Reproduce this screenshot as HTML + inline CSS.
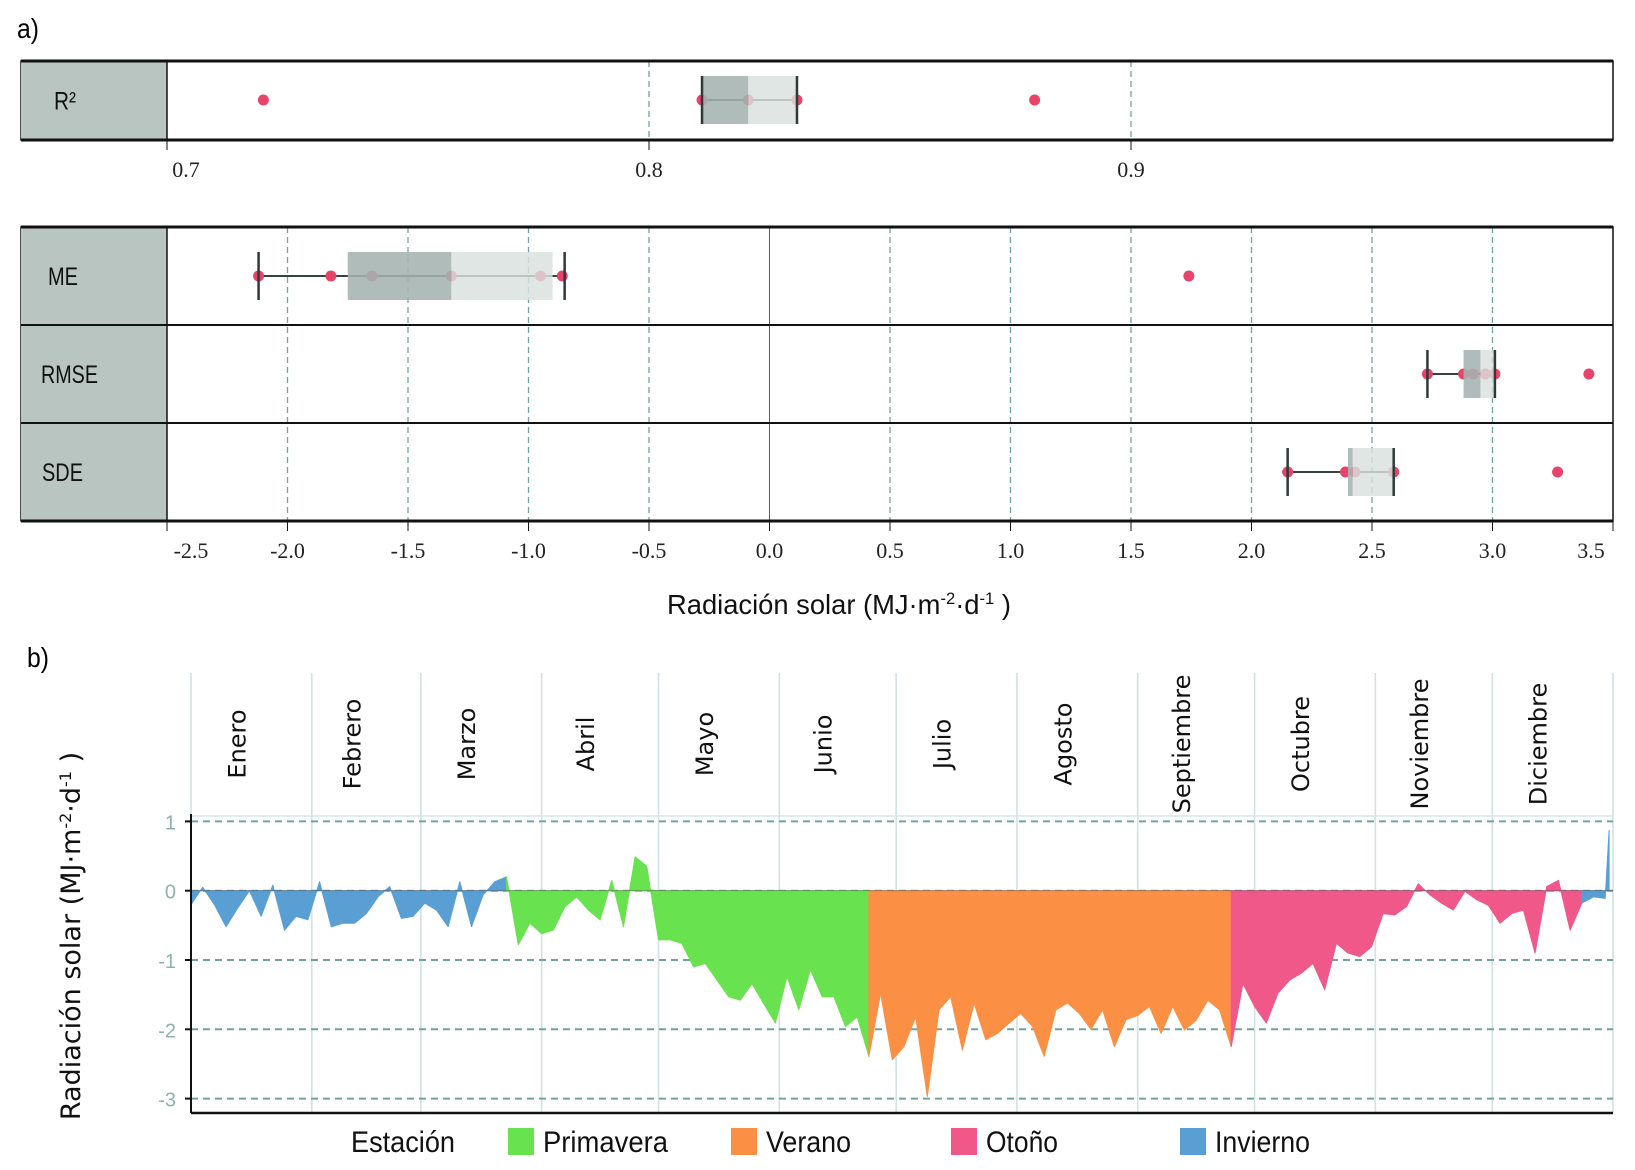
<!DOCTYPE html>
<html><head><meta charset="utf-8"><style>
html,body{margin:0;padding:0;background:#fff;}
svg{display:block;}
.nar{font-family:"Liberation Sans Narrow","Liberation Sans",sans-serif;}
.ser{font-family:"Liberation Serif",serif;}
.dej{font-family:"DejaVu Sans","Liberation Sans",sans-serif;}
</style></head><body>
<svg id="fig" width="1635" height="1170" viewBox="0 0 1635 1170" xmlns="http://www.w3.org/2000/svg">
<text x="17" y="38" class="nar" font-size="28" textLength="22" lengthAdjust="spacingAndGlyphs">a)</text>
<text x="27" y="667" class="nar" font-size="28" textLength="22" lengthAdjust="spacingAndGlyphs">b)</text>
<g id="pa"></g>
<g id="pb"></g>
</svg>
<script>
// ---------- Panel a data ----------
const r2Ticks = [0.7, 0.8, 0.9];
const r2Points = [0.72, 0.811, 0.8206, 0.8307, 0.88];
const r2Box = [0.811, 0.8206, 0.8307];      // q1, median, q3
const r2Whisk = [0.811, 0.8307];
const errTicks = [-2.5,-2.0,-1.5,-1.0,-0.5,0.0,0.5,1.0,1.5,2.0,2.5,3.0,3.5];
const errNames = ["ME","RMSE","SDE"];
const mePoints = [-2.12,-1.82,-1.65,-1.32,-0.95,-0.86,1.74];
const meBox = [-1.75,-1.32,-0.9];
const meWhisk = [-2.12,-0.85];
const rmsePoints = [2.73,2.88,2.92,2.97,3.01,3.40];
const rmseBox = [2.88,2.95,3.01];
const rmseWhisk = [2.73,3.01];
const sdePoints = [2.15,2.39,2.43,2.59,3.27];
const sdeBox = [2.40,2.42,2.59];
const sdeWhisk = [2.15,2.59];

// ---------- Panel b data ----------
const months = ["Enero","Febrero","Marzo","Abril","Mayo","Junio","Julio","Agosto","Septiembre","Octubre","Noviembre","Diciembre"];
const monthStartDays = [0,31,59,90,120,151,181,212,243,273,304,334,365];
const yTicks = [1,0,-1,-2,-3];
const seasonNames = ["Primavera","Verano","Otoño","Invierno"];
const seasonColors = ["#69e24f","#fb8f43","#f0588a","#5a9fd4"];
const dayStep = 3;
const diffValues = [-0.2,0.05,-0.2,-0.52,-0.25,0,-0.37,0.08,-0.57,-0.37,-0.42,0.13,-0.52,-0.47,-0.47,-0.33,-0.09,0.06,-0.4,-0.37,-0.18,-0.28,-0.52,0.13,-0.52,-0.06,0.13,0.2,-0.78,-0.47,-0.62,-0.57,-0.23,-0.09,-0.28,-0.42,0.15,-0.52,0.49,0.35,-0.71,-0.71,-0.76,-1.1,-1.05,-1.29,-1.53,-1.58,-1.34,-1.63,-1.91,-1.24,-1.72,-1.14,-1.53,-1.53,-1.96,-1.82,-2.39,-1.48,-2.44,-2.25,-1.82,-2.97,-1.72,-1.53,-2.3,-1.62,-2.15,-2.06,-1.91,-1.77,-1.96,-2.39,-1.72,-1.62,-1.77,-2.0,-1.72,-2.25,-1.86,-1.8,-1.67,-2.06,-1.67,-2.01,-1.87,-1.58,-1.72,-2.25,-1.34,-1.67,-1.91,-1.48,-1.29,-1.19,-1.05,-1.43,-0.76,-0.9,-0.95,-0.81,-0.33,-0.35,-0.23,0.1,-0.06,-0.18,-0.28,-0.01,-0.13,-0.21,-0.47,-0.33,-0.28,-0.9,0.06,0.15,-0.57,-0.18,-0.09,-0.11,0.87];

const NS="http://www.w3.org/2000/svg";
function mk(parent, tag, attrs, text){
  const e=document.createElementNS(NS,tag);
  for(const k in attrs) e.setAttribute(k,attrs[k]);
  if(text!==undefined) e.textContent=text;
  parent.appendChild(e); return e;
}
const pa=document.getElementById('pa');
const pb=document.getElementById('pb');

// ----- Panel a layout -----
const L=21, S=167, R=1613;
const xR2 = v => S + (v-0.7)/0.1*482;
const xErr = v => S + (v+2.5)/0.5*120.5;
const stripW = {r2:22, me:30, rmse:57, sde:41};

function strip(y0,y1,label,name){
  const r=mk(pa,'rect',{x:L,y:y0,width:S-L,height:y1-y0,fill:'#b8c5c1'});
  
  
  const xs={r2:54,me:48,rmse:41,sde:42};
  const t=mk(pa,'text',{x:xs[name],y:(y0+y1)/2+9,'font-size':25,class:'nar',fill:'#111',textLength:stripW[name],lengthAdjust:'spacingAndGlyphs'},label);
  
  
  return t;
}
function boxplot(xf,cy,pts,box,wh,name){
  const g=mk(pa,'g',{});
  
  
  mk(g,'line',{x1:xf(wh[0]),x2:xf(wh[1]),y1:cy,y2:cy,stroke:'#33443f','stroke-width':2});
  pts.forEach(v=>{
    const c=mk(g,'circle',{cx:xf(v),cy:cy,r:5.5,fill:'#e8436a'});
    
    
  });
  const h=24;
  const b1=mk(g,'rect',{x:xf(box[0]),y:cy-h,width:xf(box[1])-xf(box[0]),height:2*h,fill:'#a4b3af','fill-opacity':0.88});
  
  
  const b2=mk(g,'rect',{x:xf(box[1]),y:cy-h,width:xf(box[2])-xf(box[1]),height:2*h,fill:'#d9e1de','fill-opacity':0.82});
  
  
  wh.forEach(v=>mk(g,'line',{x1:xf(v),x2:xf(v),y1:cy-h,y2:cy+h,stroke:'#2d3a37','stroke-width':2.5}));
}

// R2 panel
mk(pa,'rect',{x:L,y:61,width:R-L,height:79,fill:'#fff',stroke:'#111','stroke-width':1.5});
r2Ticks.slice(1).forEach(v=>mk(pa,'line',{x1:xR2(v),x2:xR2(v),y1:61,y2:140,stroke:'#6fa3a0','stroke-width':1.3,'stroke-dasharray':'6,4'}));
strip(61,140,'R²','r2');
mk(pa,'line',{x1:S,x2:S,y1:61,y2:140,stroke:'#111','stroke-width':1.5});
mk(pa,'line',{x1:L,x2:R,y1:61,y2:61,stroke:'#111','stroke-width':3});
mk(pa,'line',{x1:L,x2:R,y1:140,y2:140,stroke:'#111','stroke-width':3});
boxplot(xR2,100,r2Points,r2Box,r2Whisk,'r2');
r2Ticks.forEach((v,i)=>{
  mk(pa,'line',{x1:xR2(v),x2:xR2(v),y1:140,y2:150,stroke:'#111','stroke-width':1});
  const t=mk(pa,'text',{x:xR2(v)+(i===0?19:0),y:177,'font-size':22,class:'ser','text-anchor':'middle',fill:'#222'},v.toFixed(1));
  
  
});

// Error panel
const rowY=[227,325,423,521];
mk(pa,'rect',{x:L,y:227,width:R-L,height:294,fill:'#fff',stroke:'#111','stroke-width':1.5});
errTicks.forEach(v=>{
  if(v===-2.5||v===3.5) return;
  if(v===0) mk(pa,'line',{x1:xErr(v),x2:xErr(v),y1:227,y2:521,stroke:'#6b5b55','stroke-width':1});
  else mk(pa,'line',{x1:xErr(v),x2:xErr(v),y1:227,y2:521,stroke:'#6fa3a0','stroke-width':1.3,'stroke-dasharray':'6,4'});
});
errNames.forEach((n,i)=>strip(rowY[i],rowY[i+1],n,n.toLowerCase()));
mk(pa,'line',{x1:S,x2:S,y1:227,y2:521,stroke:'#111','stroke-width':1.5});
rowY.forEach((y,i)=>mk(pa,'line',{x1:L,x2:R,y1:y,y2:y,stroke:'#111','stroke-width':(i===0||i===3)?3:2}));
boxplot(xErr,276,mePoints,meBox,meWhisk,'me');
boxplot(xErr,374,rmsePoints,rmseBox,rmseWhisk,'rmse');
boxplot(xErr,472,sdePoints,sdeBox,sdeWhisk,'sde');
errTicks.forEach(v=>{
  mk(pa,'line',{x1:xErr(v),x2:xErr(v),y1:521,y2:531,stroke:'#111','stroke-width':1});
  let dx=0; if(v===-2.5) dx=24; if(v===3.5) dx=-22;
  const t=mk(pa,'text',{x:xErr(v)+dx,y:558,'font-size':22,class:'ser','text-anchor':'middle',fill:'#222'},v.toFixed(1));
  
  
});
const xt=mk(pa,'text',{x:667,y:614,'font-size':28,class:'nar',fill:'#111',textLength:344,lengthAdjust:'spacingAndGlyphs'});


xt.innerHTML='Radiación solar (MJ·m<tspan dy="-10" font-size="17">-2</tspan><tspan dy="10">·d</tspan><tspan dy="-10" font-size="17">-1</tspan><tspan dy="10"> )</tspan>';

// ----- Panel b -----
const BL=191, BR=1613, Y0=890.7, YU=69.3, BT=816, BB=1113;
const xDay = d => BL + d*(BR-BL)/365;
const yVal = v => Y0 - v*YU;
function seasonOf(d){ if(d<79) return 3; if(d<172) return 0; if(d<265) return 1; if(d<355) return 2; return 3; }

monthStartDays.forEach(d=>{
  const l=mk(pb,'line',{x1:xDay(d),x2:xDay(d),y1:673,y2:BB,stroke:'#cfe3e2','stroke-width':1.6});
  
  
});
mk(pb,'line',{x1:BL,x2:BR,y1:BT,y2:BT,stroke:'#d3e5e4','stroke-width':1.5});
months.forEach((m,i)=>{
  const cx=(xDay(monthStartDays[i])+xDay(monthStartDays[i+1]))/2-6;
  const t=mk(pb,'text',{x:0,y:0,'font-size':24,class:'dej','text-anchor':'middle',fill:'#111',transform:`translate(${cx},744) rotate(-90)`},m);
  
  
});
yTicks.forEach(v=>{
  const g=mk(pb,'line',{x1:BL,x2:BR,y1:yVal(v),y2:yVal(v),stroke:'#6fa3a0','stroke-width':2,'stroke-dasharray':'7,5'});
  
  
  mk(pb,'line',{x1:BL-6,x2:BL,y1:yVal(v),y2:yVal(v),stroke:'#111','stroke-width':2});
  const t=mk(pb,'text',{x:176,y:yVal(v)+8,'font-size':20,class:'nar','text-anchor':'end',fill:'#8fb1ae'},String(v));
  
  
});
// areas by season segment
const pts=diffValues.map((v,i)=>({d:Math.min(i*dayStep,364),v:v}));
let seg=[pts[0]], segS=seasonOf(pts[0].d);
function flush(list,s,nextPt){
  const all=nextPt?list.concat([nextPt]):list;
  let dstr=`M${xDay(all[0].d)},${Y0}`;
  all.forEach(p=>dstr+=` L${xDay(p.d)},${yVal(p.v)}`);
  dstr+=` L${xDay(all[all.length-1].d)},${Y0} Z`;
  const a=mk(pb,'path',{d:dstr,fill:seasonColors[s],stroke:seasonColors[s],'stroke-width':1,'stroke-linejoin':'round'});
  
  
}
for(let i=1;i<pts.length;i++){
  const s=seasonOf(pts[i].d);
  if(s!==segS){ flush(seg,segS,pts[i]); seg=[pts[i]]; segS=s; }
  else seg.push(pts[i]);
}
flush(seg,segS,null);
mk(pb,'line',{x1:BL,x2:BR,y1:Y0,y2:Y0,stroke:'#444','stroke-width':0.8,'stroke-opacity':0.5});
mk(pb,'line',{x1:BL,x2:BL,y1:BT-2,y2:BB,stroke:'#111','stroke-width':2});
mk(pb,'line',{x1:BL,x2:BR,y1:BB,y2:BB,stroke:'#111','stroke-width':2.5});
const yt=mk(pb,'text',{x:0,y:0,'font-size':27,class:'dej','text-anchor':'middle',fill:'#111',transform:'translate(80,936) rotate(-90)'});


yt.innerHTML='Radiación solar (MJ·m<tspan dy="-9" font-size="16">-2</tspan><tspan dy="9">·d</tspan><tspan dy="-9" font-size="16">-1</tspan><tspan dy="9"> )</tspan>';
// legend
const lt=mk(pb,'text',{x:351,y:1152,'font-size':30,class:'nar',fill:'#111',textLength:104,lengthAdjust:'spacingAndGlyphs'},'Estación');


const legX=[508,731,951,1180];
const legW=[125,85,72,95];
seasonNames.forEach((n,i)=>{
  const r=mk(pb,'rect',{x:legX[i],y:1128,width:26,height:27,fill:seasonColors[i]});
  
  
  const t=mk(pb,'text',{x:legX[i]+35,y:1152,'font-size':30,class:'nar',fill:'#111',textLength:legW[i],lengthAdjust:'spacingAndGlyphs'},n);
  
  
});
</script>
</body></html>
